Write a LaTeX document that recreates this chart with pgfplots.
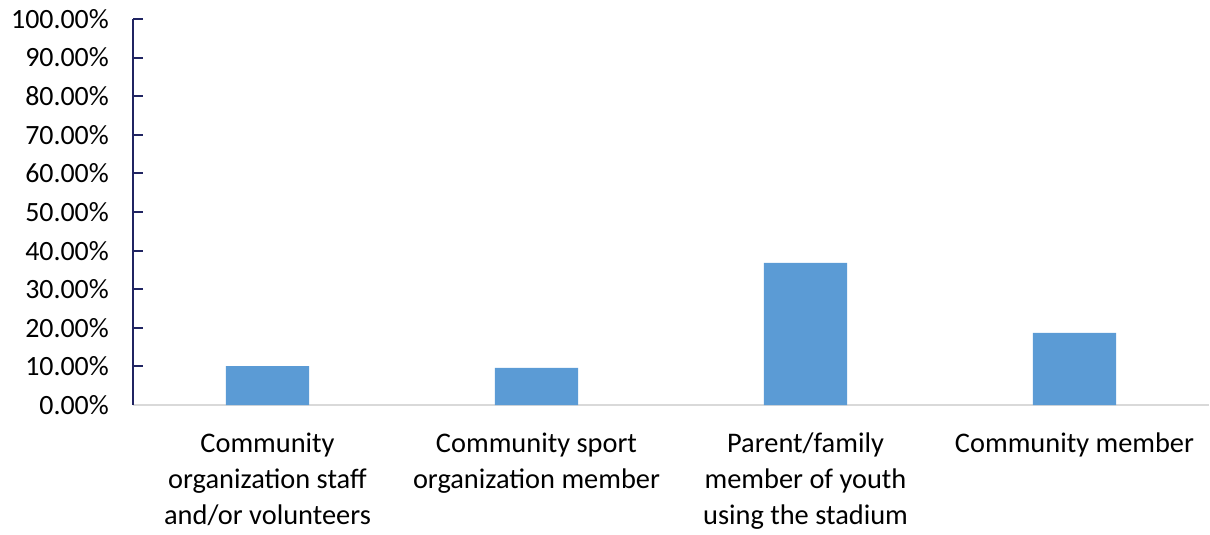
\documentclass[border=0pt]{standalone}
\usepackage{pgfplots}
\pgfplotsset{compat=1.18}
\usepackage{fontspec}
\setmainfont{Carlito}
\definecolor{barblue}{RGB}{91,155,213}
\definecolor{axisnavy}{RGB}{32,36,98}
\definecolor{basegray}{RGB}{217,217,217}

\begin{document}
\begin{tikzpicture}
\begin{axis}[
    name=ax,
    scale only axis,
    width=1076bp, height=386bp,
    xmin=-0.5, xmax=3.5,
    ymin=0, ymax=100,
    axis lines*=left,
    x axis line style={basegray, line width=2.2bp},
    y axis line style={axisnavy, line width=2bp},
    xtick=data,
    xticklabels={
        {Community\\organization staff\\and/or volunteers},
        {Community sport\\organization member},
        {Parent/family\\member of youth\\using the stadium},
        {Community member}},
    xtick style={draw=none},
    xticklabel style={align=center, inner sep=0pt,
        yshift=-18bp, font=\fontsize{28.5}{36}\selectfont},
    ytick={0,10,...,100},
    yticklabel={\pgfmathprintnumber[fixed,fixed zerofill,precision=2]{\tick}\%},
    yticklabel style={inner sep=0pt, xshift=-24bp,
        font=\fontsize{28}{32}\selectfont},
    /pgf/number format/assume math mode=true,
    tick align=inside,
    ytick style={axisnavy, line width=2bp},
    major tick length=10bp,
    ybar,
    bar width=0.31,
]
\addplot[fill=barblue, draw=none] coordinates {
    (0,10.1) (1,9.6) (2,36.8) (3,18.7)
};
\end{axis}
\pgfresetboundingbox
\path ([xshift=-133bp,yshift=-129bp]ax.south west) rectangle ([xshift=1bp,yshift=19bp]ax.north east);
\end{tikzpicture}
\end{document}
